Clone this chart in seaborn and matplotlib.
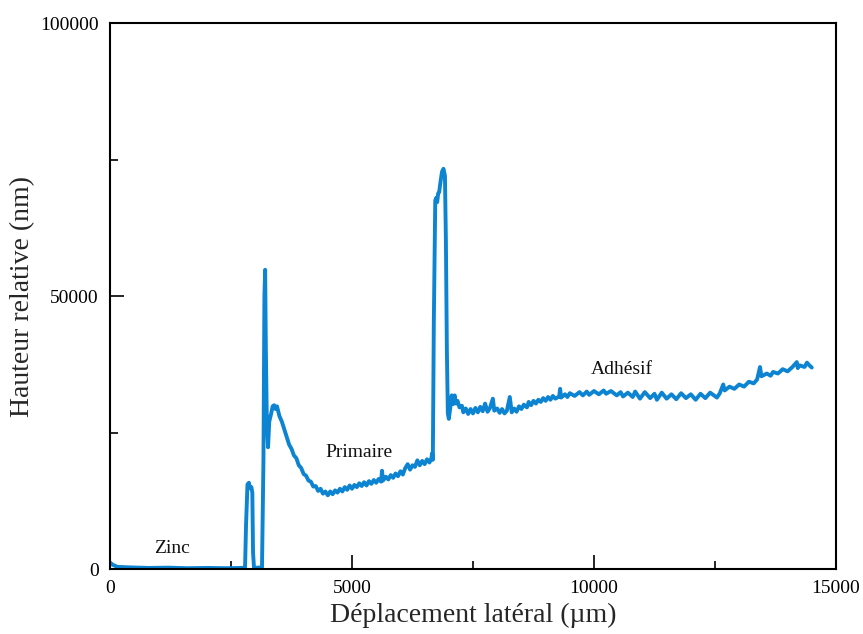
import numpy as np
import pandas as pd
import matplotlib.pyplot as plt
from matplotlib.ticker import MultipleLocator
import seaborn as sns

# Profile, split by zone: position (µm), height (nm)
zinc_x = [0, 50, 150, 400, 800, 1200, 1600, 2000, 2400, 2750]
zinc_y = [1200, 800, 400, 300, 200, 250, 150, 200, 150, 200]

bords_x = [2790, 2810, 2840, 2870, 2890, 2920, 2940, 2955, 2975, 3140,
           3170, 3190, 3205, 3220, 3240, 3265, 3290, 3330, 3360]
bords_y = [300, 8000, 15500, 15800, 14800, 15000, 14000, 3000, 200, 300,
           20000, 50000, 54800, 40000, 27000, 22300, 27000, 28500, 29800]

primaire_x = [3390, 3420, 3450, 3500, 3550, 3600, 3650, 3700, 3750, 3800,
              3850, 3900, 3950, 4000, 4050, 4100, 4150, 4200, 4250, 4300,
              4350, 4400, 4450, 4500, 4550, 4600, 4650, 4700, 4750, 4800,
              4850, 4900, 4950, 5000, 5050, 5100, 5150, 5200, 5250, 5300,
              5350, 5400, 5450, 5500, 5550, 5600, 5620, 5640, 5700, 5750,
              5800, 5850, 5900, 5950, 6000, 6050, 6100, 6150, 6200, 6250,
              6300, 6350, 6400, 6450, 6500, 6550, 6600, 6640, 6655, 6670]
primaire_y = [30000, 29300, 29800, 28000, 27000, 25600, 24200, 22800, 22000, 20800,
              20300, 19000, 18500, 17400, 17100, 16200, 16000, 15100, 15200, 14300,
              14700, 13800, 14200, 13500, 14200, 13700, 14400, 14000, 14700, 14200,
              15000, 14500, 15300, 14700, 15400, 15000, 15700, 15200, 15900, 15300,
              16100, 15600, 16300, 15800, 16500, 16000, 18000, 16200, 16900, 16400,
              17200, 16700, 17500, 17000, 17900, 17300, 18500, 19200, 18200, 19000,
              18700, 19900, 19000, 19800, 19200, 20100, 19500, 20300, 21200, 20000]

pic_x = [6690, 6720, 6740, 6760, 6780, 6800, 6830, 6860, 6890, 6920,
         6940, 6960, 6980]
pic_y = [45000, 67500, 68000, 67200, 68800, 69000, 71000, 72800, 73300, 72000,
         60000, 40000, 28500]

adhesif_x = [7000, 7030, 7060, 7090, 7120, 7150, 7180, 7220, 7270, 7300,
             7350, 7400, 7450, 7500, 7550, 7600, 7650, 7700, 7750, 7800,
             7850, 7910, 7940, 8000, 8050, 8100, 8150, 8200, 8260, 8300,
             8350, 8400, 8450, 8500, 8550, 8615, 8650, 8700, 8750, 8800,
             8850, 8900, 8950, 9000, 9050, 9100, 9150, 9200, 9280, 9300,
             9320, 9400, 9450, 9500, 9600, 9700, 9770, 9850, 9900, 10000,
             10100, 10200, 10250, 10350, 10470, 10550, 10600, 10700, 10800, 10850,
             10950, 11050, 11160, 11250, 11300, 11400, 11500, 11600, 11700, 11800,
             11900, 12000, 12100, 12200, 12300, 12400, 12540, 12600, 12670, 12700,
             12800, 12900, 13000, 13100, 13200, 13300, 13370, 13430, 13460, 13570,
             13650, 13700, 13800, 13900, 14000, 14100, 14190, 14210, 14250, 14350,
             14400, 14450, 14500]
adhesif_y = [27500, 29500, 31800, 30200, 31800, 30300, 30800, 29600, 29900, 28700,
             29400, 28400, 29300, 28500, 29500, 28700, 29700, 28900, 30300, 28800,
             29500, 31200, 29000, 29400, 28600, 29300, 28500, 29000, 31500, 28700,
             29400, 28800, 29800, 29300, 30100, 29600, 30600, 30000, 30800, 30300,
             31000, 30600, 31300, 30800, 31500, 31000, 31700, 31200, 31600, 33000,
             31400, 32000, 31500, 32200, 31700, 32400, 31800, 32500, 31900, 32600,
             32000, 32700, 32100, 32600, 31800, 32400, 31600, 32300, 31500, 32500,
             31200, 32400, 31300, 32100, 31000, 32300, 31200, 32000, 31100, 32200,
             31300, 32000, 31000, 32100, 31300, 32300, 31400, 32200, 33800, 32700,
             33400, 33000, 33800, 33400, 34300, 34000, 34700, 37000, 35300, 35800,
             35400, 36100, 35800, 36600, 36200, 37000, 37900, 36800, 37300, 37000,
             37800, 37300, 36900]

zones = ["Zinc", "Primaire", "Adhésif"]
zones_x = [1280, 5145, 10580]
zones_y = [3700, 21250, 36450]

df = pd.DataFrame({
    "x": zinc_x + bords_x + primaire_x + pic_x + adhesif_x,
    "y": zinc_y + bords_y + primaire_y + pic_y + adhesif_y,
})

sns.set_style("ticks")
plt.rcParams['font.family'] = ['Liberation Serif', 'DejaVu Serif']

fig = plt.figure(figsize=(8.63, 6.34), dpi=100)
ax = fig.add_axes([0.1275, 0.1025, 0.8412, 0.8612])

sns.lineplot(data=df, x="x", y="y", ax=ax, color='#0d84d2', lw=2.8, sort=False)

for name, zx, zy in zip(zones, zones_x, zones_y):
    ax.text(zx, zy, name, ha='center', va='center', fontsize=14, color='#111111')

ax.set_xlim(0, 15000)
ax.set_ylim(0, 100000)
ax.xaxis.set_major_locator(MultipleLocator(5000))
ax.xaxis.set_minor_locator(MultipleLocator(2500))
ax.yaxis.set_major_locator(MultipleLocator(50000))
ax.yaxis.set_minor_locator(MultipleLocator(25000))
ax.tick_params(which='both', direction='in', top=False, right=False,
               width=1.2, labelsize=14, colors='black')
ax.tick_params(which='major', length=10, pad=8)
ax.tick_params(which='minor', length=6)
for sp in ax.spines.values():
    sp.set_visible(True)
    sp.set_linewidth(1.5)
    sp.set_color('black')

ax.set_xlabel('Déplacement latéral (µm)', fontsize=20)
ax.set_ylabel('Hauteur relative (nm)', fontsize=20)

fig.savefig('out.png', dpi=100)
